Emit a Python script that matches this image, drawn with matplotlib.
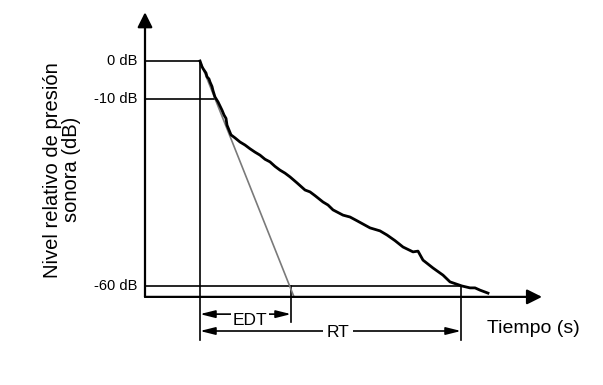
import matplotlib.pyplot as plt

plt.rcParams['font.family'] = ['Liberation Sans', 'DejaVu Sans']

# decay curve, time (arbitrary units) vs relative level (dB)
t_curve = [0.55, 0.57, 0.58, 0.61, 0.62, 0.64, 0.65, 0.67, 0.68, 0.70, 0.73, 0.75,
           0.77, 0.79, 0.81, 0.82, 0.84, 0.86, 0.90, 0.95, 1.00, 1.05, 1.10, 1.15,
           1.20, 1.25, 1.30, 1.35, 1.40, 1.45, 1.52, 1.60, 1.65, 1.70, 1.78, 1.83,
           1.88, 1.98, 2.05, 2.12, 2.25, 2.35, 2.42, 2.50, 2.58, 2.68, 2.73, 2.78,
           2.88, 2.98, 3.05, 3.17, 3.25, 3.30, 3.35, 3.43]
db_curve = [0.0, -1.5, -2.0, -3.2, -4.2, -4.8, -5.6, -6.8, -7.9, -9.6, -10.9, -12.0,
            -13.1, -14.4, -15.3, -17.1, -18.4, -19.7, -20.5, -21.6, -22.4, -23.4, -24.3, -25.1,
            -26.2, -26.9, -28.1, -29.1, -29.9, -30.9, -32.5, -34.4, -34.9, -35.9, -37.6, -38.4,
            -39.7, -41.1, -41.6, -42.6, -44.5, -45.3, -46.4, -47.9, -49.6, -50.9, -50.7, -53.1,
            -55.2, -57.1, -58.9, -60.0, -60.5, -60.5, -61.1, -61.9]

# linear fit from the first 10 dB, extrapolated (EDT)
t_edt_line = [0.55, 1.49]
db_edt_line = [0.0, -62.9]

level_ticks = [0, -10, -60]
level_labels = ['0 dB', '-10 dB', '-60 dB']

t_start = 0.55
t_10 = 0.70
t_edt = 1.46
t_rt = 3.16

fig = plt.figure(figsize=(6.03, 3.85), dpi=100)
ax = fig.add_axes([0, 0, 1, 1])
ax.set_xlim(-1.45, 4.58)
ax.set_ylim(-86.4, 16.27)
ax.axis('off')

x_floor = -62.9

# axes with arrows
ax.annotate('', xy=(0, 13.0), xytext=(0, x_floor),
            arrowprops=dict(arrowstyle='-|>,head_length=0.6,head_width=0.3',
                            mutation_scale=15, lw=1.6, color='black',
                            shrinkA=0, shrinkB=0))
ax.annotate('', xy=(3.97, x_floor), xytext=(0, x_floor),
            arrowprops=dict(arrowstyle='-|>,head_length=0.6,head_width=0.3',
                            mutation_scale=15, lw=1.6, color='black',
                            shrinkA=0, shrinkB=0))

# reference level lines
ax.plot([0, t_start], [0, 0], color='black', lw=1.2)
ax.plot([0, t_10], [-10, -10], color='black', lw=1.2)
ax.plot([0, t_rt], [-60, -60], color='black', lw=1.2)

# vertical markers
ax.plot([t_start, t_start], [0, -74.4], color='black', lw=1.2)
ax.plot([t_edt, t_edt], [-60, -69.6], color='black', lw=1.2)
ax.plot([t_rt, t_rt], [-60, -74.4], color='black', lw=1.2)

# EDT extrapolation and decay curve
ax.plot(t_edt_line, db_edt_line, color='#7a7a7a', lw=1.2)
ax.plot(t_curve, db_curve, color='black', lw=2.0, solid_joinstyle='round')

for lv, lab in zip(level_ticks, level_labels):
    ax.text(-0.08, lv, lab, ha='right', va='center', fontsize=10.5)

# dimension arrows
dim_style = dict(arrowstyle='<|-|>,head_length=0.6,head_width=0.15',
                 mutation_scale=15, lw=1.2, color='black', shrinkA=0, shrinkB=0)
ax.annotate('', xy=(t_start, -67.5), xytext=(t_edt, -67.5), arrowprops=dim_style)
ax.annotate('', xy=(t_start, -72.0), xytext=(t_rt, -72.0), arrowprops=dim_style)
ax.text(1.05, -69.2, 'EDT', ha='center', va='center', fontsize=12.5,
        bbox=dict(facecolor='white', edgecolor='none', pad=1.5))
ax.text(1.93, -72.3, 'RT', ha='center', va='center', fontsize=12.5,
        bbox=dict(facecolor='white', edgecolor='none', pad=2.5))

ax.text(3.42, -71.2, 'Tiempo (s)', ha='left', va='center', fontsize=14)
ax.text(-0.83, -29.0, 'Nivel relativo de presión\nsonora (dB)', ha='center',
        va='center', rotation=90, fontsize=14.5, linespacing=1.0)

fig.savefig('out.png', dpi=100)
plt.close(fig)
